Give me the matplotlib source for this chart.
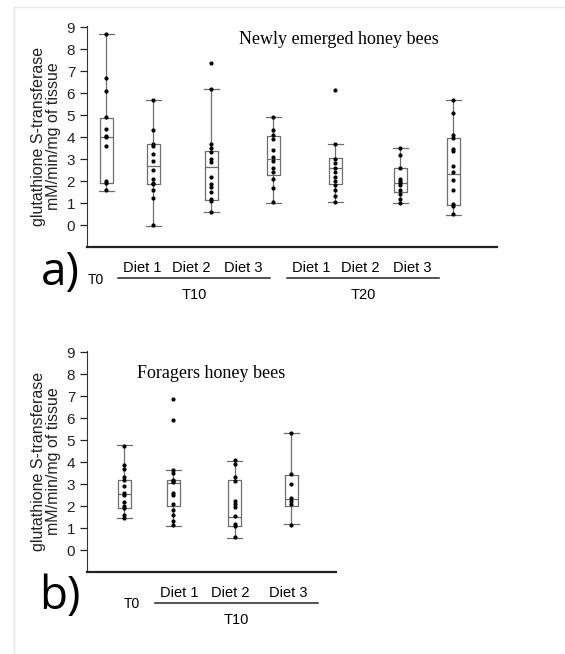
import matplotlib.pyplot as plt
from matplotlib.lines import Line2D

# panel a) newly emerged bees : T0, T10 diet 1-3, T20 diet 1-3
a_med = [4.0, 2.68, 2.65, 3.0, 2.6, 1.9, 2.3]
a_q1 = [1.9, 1.85, 1.15, 2.27, 1.85, 1.5, 0.9]
a_q3 = [4.85, 3.68, 3.35, 4.05, 3.03, 2.58, 3.97]
a_lo = [1.55, -0.05, 0.6, 1.0, 1.03, 1.0, 0.45]
a_hi = [8.7, 5.7, 6.2, 4.9, 3.7, 3.5, 5.7]
a_pts = [
    [8.7, 6.7, 6.1, 4.9, 4.35, 4.05, 4.0, 3.6, 2.0, 1.9, 1.6],
    [5.7, 4.3, 3.7, 3.6, 3.25, 2.9, 2.5, 2.1, 1.9, 1.85, 1.6, 1.25, 0.0],
    [7.35, 6.2, 3.7, 3.5, 3.3, 3.0, 2.85, 2.2, 1.85, 1.75, 1.5, 1.2, 1.1, 0.6],
    [4.9, 4.3, 4.1, 3.9, 3.4, 3.1, 2.9, 2.6, 2.4, 2.1, 1.7, 1.05],
    [6.15, 3.7, 3.0, 2.8, 2.6, 2.4, 2.2, 2.0, 1.8, 1.6, 1.3, 1.05],
    [3.5, 3.2, 2.6, 2.1, 2.0, 1.9, 1.8, 1.6, 1.4, 1.2, 1.0],
    [5.7, 5.1, 4.1, 3.95, 3.45, 3.35, 2.7, 2.4, 2.05, 1.6, 0.95, 0.85, 0.5],
]

# panel b) foragers : T0, T10 diet 1-3
b_med = [2.53, 3.03, 1.5, 2.3]
b_q1 = [1.9, 2.0, 1.1, 2.0]
b_q3 = [3.2, 3.18, 3.2, 3.4]
b_lo = [1.45, 1.1, 0.55, 1.18]
b_hi = [4.77, 3.62, 4.05, 5.3]
b_pts = [
    [4.75, 3.85, 3.7, 3.3, 3.2, 2.9, 2.6, 2.5, 2.2, 2.0, 1.9, 1.6, 1.45],
    [6.85, 5.9, 3.65, 3.5, 3.2, 3.15, 3.1, 2.6, 2.5, 2.1, 1.8, 1.6, 1.3, 1.15],
    [4.1, 3.9, 3.3, 3.15, 2.25, 2.1, 1.95, 1.55, 1.2, 1.1, 0.6],
    [5.3, 3.45, 3.0, 2.35, 2.25, 2.1, 1.15],
]

ylabel = 'glutathione S-transferase\nmM/min/mg of tissue'
W, H = 565, 654

plt.rcParams['font.family'] = ['Liberation Sans', 'DejaVu Sans']
fig = plt.figure(figsize=(5.65, 6.54), dpi=100)

# light frame of the original page
fig.add_artist(Line2D([14 / W, 1], [1 - 7 / H, 1 - 7 / H], color='#e6e6e6', lw=1))
fig.add_artist(Line2D([14 / W, 14 / W], [0, 1 - 7 / H], color='#e6e6e6', lw=1))


def panel(rect, pos, xmax, med, q1, q3, lo, hi, pts):
    ax = fig.add_axes(rect)
    stats = [dict(med=m, q1=a, q3=b, whislo=l, whishi=h, fliers=[])
             for m, a, b, l, h in zip(med, q1, q3, lo, hi)]
    lp = dict(color='#6e6e6e', lw=0.9)
    ax.bxp(stats, positions=pos, widths=0.26, showfliers=False,
           boxprops=lp, whiskerprops=lp, capprops=lp, medianprops=lp,
           capwidths=0.3, manage_ticks=False)
    for x, p in zip(pos, pts):
        ax.plot([x] * len(p), p, 'o', color='black', ms=2.0, zorder=3)
    ax.set_xlim(0, xmax)
    ax.set_ylim(-1, 9.05)
    ax.set_yticks(range(10))
    ax.set_xticks([])
    ax.tick_params(axis='y', length=5, width=0.9, labelsize=11, colors='#222222')
    ax.spines['top'].set_visible(False)
    ax.spines['right'].set_visible(False)
    ax.spines['left'].set_color('#333333')
    ax.spines['bottom'].set_linewidth(1.6)
    ax.spines['bottom'].set_color('#222222')
    ax.set_ylabel(ylabel, fontsize=11.5, color='#222222', labelpad=4, linespacing=1.05)
    return ax


pos_a = [0.38, 1.32, 2.48, 3.72, 4.96, 6.26, 7.32]
ax1 = panel([87 / W, 1 - 247 / H, 410 / W, 221 / H], pos_a, 8.2,
            a_med, a_q1, a_q3, a_lo, a_hi, a_pts)
ax1.text(0.37, 0.94, 'Newly emerged honey bees', transform=ax1.transAxes,
         family='Liberation Serif', fontsize=13, va='center', ha='left')

pos_b = [0.74, 1.72, 2.96, 4.08]
ax2 = panel([87 / W, 1 - 572 / H, 249 / W, 221 / H], pos_b, 4.98,
            b_med, b_q1, b_q3, b_lo, b_hi, b_pts)
ax2.text(0.2, 0.9, 'Foragers honey bees', transform=ax2.transAxes,
         family='Liberation Serif', fontsize=13, va='center', ha='left')


def px(x, y):
    return x / W, 1 - y / H


def labels(tag, ytag, t0x, groups):
    fig.text(*px(60, ytag), tag, fontsize=33, ha='center', va='center',
             family=['Open Sans', 'DejaVu Sans'])
    fig.text(*px(t0x, ytag + 7), 'T0', fontsize=10, ha='center', va='center')
    for x0, x1, ydiet, xs, name in groups:
        for x, d in zip(xs, ['Diet 1', 'Diet 2', 'Diet 3']):
            fig.text(*px(x, ydiet), d, fontsize=10.5, ha='center', va='center')
        fig.add_artist(Line2D([x0 / W, x1 / W], [1 - (ydiet + 10) / H] * 2,
                              color='#222222', lw=1.1))
        fig.text(*px((x0 + x1) / 2, ydiet + 27), name, fontsize=10.5,
                 ha='center', va='center')


labels('a)', 273, 96, [(118, 270, 268, [142, 191, 243], 'T10'),
                       (287, 439, 268, [311, 360, 412], 'T20')])
labels('b)', 597, 132, [(155, 318, 593, [179, 230, 288], 'T10')])

fig.savefig('out.png', dpi=100, facecolor='white')
